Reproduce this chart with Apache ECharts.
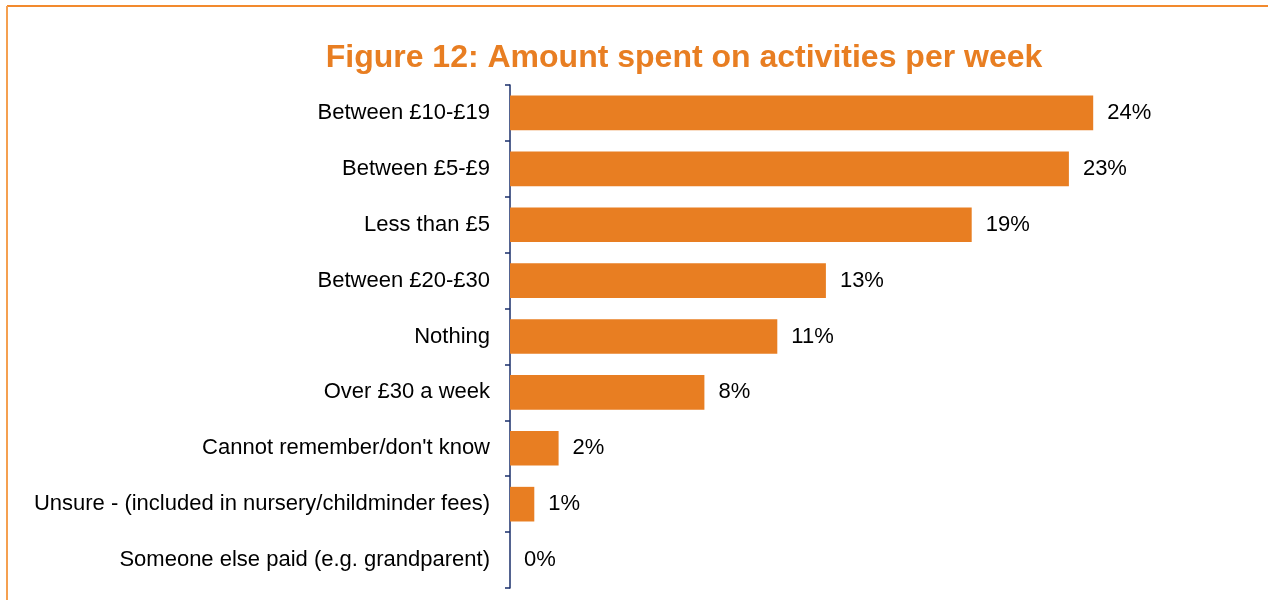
<!DOCTYPE html>
<html><head><meta charset="utf-8">
<script src="https://cdn.jsdelivr.net/npm/echarts@6/dist/echarts.min.js"></script>
<style>html,body{margin:0;padding:0;background:#fff}#c{width:1268px;height:600px}</style>
</head><body><div id="c"></div>
<script>
const categories = [
  "Between £10-£19",
  "Between £5-£9",
  "Less than £5",
  "Between £20-£30",
  "Nothing",
  "Over £30 a week",
  "Cannot remember/don't know",
  "Unsure - (included in nursery/childminder fees)",
  "Someone else paid (e.g. grandparent)"
];
const values = [24, 23, 19, 13, 11, 8, 2, 1, 0];
const titleText = "Figure 12: Amount spent on activities per week";

const chart = echarts.init(document.getElementById('c'), null, {renderer: 'canvas'});
chart.setOption({
  animation: false,
  backgroundColor: '#fff',
  title: {
    text: titleText, left: 679, top: 37, textAlign: 'center',
    textStyle: {fontFamily: 'Liberation Sans, Arial', fontSize: 32, fontWeight: 'bold', color: '#E87E22'}
  },
  graphic: [
    {type: 'line', shape: {x1: 7, y1: 6, x2: 1268, y2: 6}, style: {stroke: '#F28A2E', lineWidth: 2}},
    {type: 'line', shape: {x1: 7, y1: 6, x2: 7, y2: 600}, style: {stroke: '#F5A050', lineWidth: 2}}
  ],
  grid: {left: 510, top: 85, height: 503, right: 29, containLabel: false},
  xAxis: {type: 'value', min: 0, max: 30, show: false},
  yAxis: {
    type: 'category', data: categories, inverse: true,
    axisLine: {show: true, lineStyle: {color: '#1A2F6B', width: 1.5}},
    axisTick: {show: true, length: 5, lineStyle: {color: '#1A2F6B', width: 1.5}},
    axisLabel: {margin: 20, fontFamily: 'Liberation Sans, Arial', fontSize: 22, color: '#000'},
    splitLine: {show: false}
  },
  series: [{
    type: 'bar', data: values, barCategoryGap: '38%',
    itemStyle: {color: '#E87E22'},
    label: {show: true, position: 'right', distance: 14, formatter: '{c}%',
      fontFamily: 'Liberation Sans, Arial', fontSize: 22, color: '#000'}
  }]
});
</script></body></html>
